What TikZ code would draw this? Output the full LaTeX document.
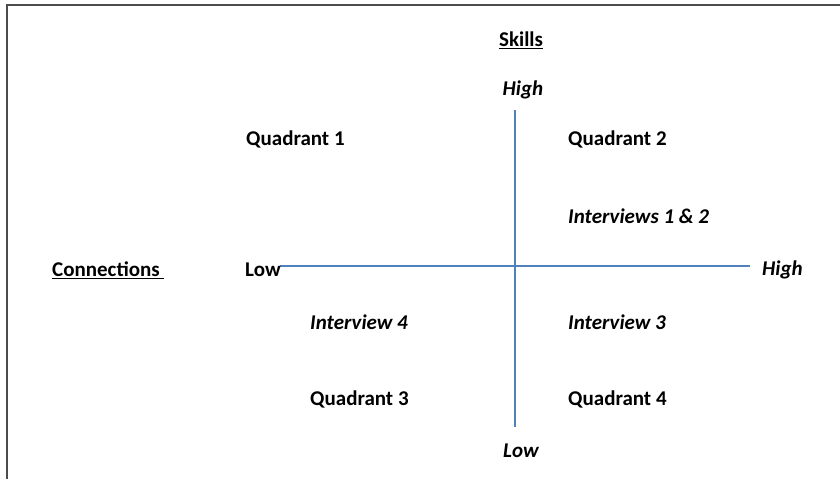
\documentclass[tikz,border=0pt]{standalone}
\usepackage{fontspec}
\setmainfont{Carlito}
\definecolor{axisblue}{RGB}{79,129,189}
\begin{document}
\begin{tikzpicture}[x=1pt,y=-1pt,
				every node/.style={inner sep=0pt,font=\fontsize{21}{25}\selectfont\bfseries},
				label/.style={anchor=west},
				axis label/.style={font=\fontsize{21}{25}\selectfont\bfseries\itshape},
				axis/.style={draw=axisblue,line width=1.3pt},
				frame/.style={draw=black!70,line width=1.6pt}]
\useasboundingbox (0,0) rectangle (840,479);
\draw[frame] (7,479) -- (7,5) -- (840,5);
% axes
\coordinate (top) at (515,110);
\coordinate (bottom) at (515,427);
\coordinate (left) at (280,266);
\coordinate (right) at (750,266);
\draw[axis] (top) -- (bottom);
\draw[axis] (left) -- (right);
% titles
\node (skills) at (521,40) {\underline{Skills}};
\node[label] (connections) at (52,270) {\underline{Connections\ }};
% axis ends
\node[axis label] (skillshigh) at (523,90) {High};
\node[axis label] (skillslow) at (521,451) {Low};
\node[label] (connlow) at (245,270) {Low};
\node[label,axis label] (connhigh) at (762,270) {High};
% quadrants
\node[label] (q1) at (246,139) {Quadrant 1};
\node[label] (q2) at (568,139) {Quadrant 2};
\node[label] (q3) at (310,399) {Quadrant 3};
\node[label] (q4) at (568,399) {Quadrant 4};
% interviews
\node[label,axis label] (i12) at (568,216) {Interviews 1 \& 2};
\node[label,axis label] (i4) at (310,322) {Interview 4};
\node[label,axis label] (i3) at (568,322) {Interview 3};
\end{tikzpicture}
\end{document}
